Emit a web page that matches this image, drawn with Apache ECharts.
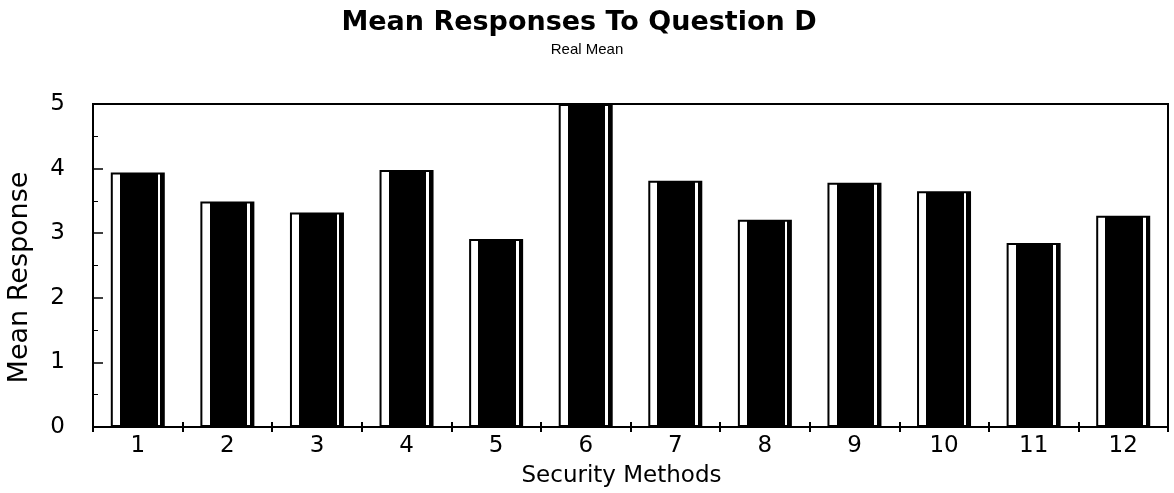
<!DOCTYPE html>
<html>
<head>
<meta charset="utf-8">
<title>Mean Responses To Question D</title>
<script src="https://cdn.jsdelivr.net/npm/echarts@6/dist/echarts.min.js"></script>
<style>
  html, body { margin: 0; padding: 0; background: #ffffff; }
  #chart { width: 1174px; height: 493px; }
</style>
</head>
<body>
<div id="chart"></div>
<script>
// Security methods (categories) and mean response per method
const methods = ['1', '2', '3', '4', '5', '6', '7', '8', '9', '10', '11', '12'];
const meanResponse = [3.94, 3.49, 3.32, 3.98, 2.91, 5.0, 3.81, 3.21, 3.78, 3.65, 2.85, 3.27];
const yTicks = [0, 1, 2, 3, 4, 5];

const WIDE = '"DejaVu Sans", Verdana, sans-serif';
const NARROW = '"Liberation Sans", Arial, sans-serif';

// Black bar with a white highlight stripe near each side
const barFill = {
  type: 'linear', x: 0, y: 0, x2: 1, y2: 0,
  colorStops: [
    { offset: 0.00, color: '#ffffff' },
    { offset: 0.17, color: '#ffffff' },
    { offset: 0.17, color: '#000000' },
    { offset: 0.865, color: '#000000' },
    { offset: 0.865, color: '#ffffff' },
    { offset: 0.915, color: '#ffffff' },
    { offset: 0.915, color: '#000000' },
    { offset: 1.00, color: '#000000' }
  ]
};

const chart = echarts.init(document.getElementById('chart'), null, { renderer: 'canvas' });

const option = {
  backgroundColor: '#ffffff',
  animation: false,
  title: [
    {
      text: 'Mean Responses To Question D',
      left: 579,
      textAlign: 'center',
      top: 9,
      padding: 0,
      textStyle: { fontFamily: WIDE, fontSize: 27, fontWeight: 'bold', color: '#000' }
    },
    {
      text: 'Real Mean',
      left: 587,
      textAlign: 'center',
      top: 42,
      padding: 0,
      textStyle: { fontFamily: NARROW, fontSize: 15, fontWeight: 'normal', color: '#000' }
    }
  ],
  grid: {
    left: 93, right: 6, top: 104, bottom: 66,
    outerBoundsMode: 'none',
    containLabel: false,
    show: true, borderColor: '#000', borderWidth: 2, backgroundColor: 'transparent'
  },
  xAxis: [
    {
      type: 'category',
      data: methods,
      name: 'Security Methods',
      nameLocation: 'middle',
      nameGap: 38,
      nameTextStyle: { fontFamily: WIDE, fontSize: 23, color: '#000', padding: [0, 18, 0, 0] },
      axisLine: { lineStyle: { color: '#000', width: 2 } },
      axisTick: { show: true, inside: false, length: 5, lineStyle: { color: '#000', width: 2 } },
      axisLabel: { fontFamily: WIDE, fontSize: 23, color: '#000', margin: 8 }
    },
    {
      // inner half of the crossing category ticks
      type: 'category',
      data: methods,
      position: 'bottom',
      axisLine: { show: false },
      axisTick: { show: true, inside: true, length: 5, lineStyle: { color: '#000', width: 2 } },
      axisLabel: { show: false }
    }
  ],
  yAxis: {
    type: 'value',
    min: yTicks[0],
    max: yTicks[yTicks.length - 1],
    interval: 1,
    name: 'Mean Response',
    nameLocation: 'middle',
    nameGap: 60,
    nameTextStyle: { fontFamily: WIDE, fontSize: 27, color: '#000', padding: [0, 24, 0, 0] },
    axisLine: { show: true, lineStyle: { color: '#000', width: 2 } },
    axisTick: { show: true, inside: true, length: 10, lineStyle: { color: '#000', width: 1.5 } },
    minorTick: { show: true, splitNumber: 2, length: 5, lineStyle: { color: '#000', width: 1 } },
    splitLine: { show: false },
    axisLabel: { fontFamily: WIDE, fontSize: 23, color: '#000', margin: 28 }
  },
  series: [{
    type: 'bar',
    data: meanResponse,
    barWidth: 54,
    itemStyle: { color: barFill, borderColor: '#000', borderWidth: 2 }
  }]
};

chart.setOption(option);
</script>
</body>
</html>
